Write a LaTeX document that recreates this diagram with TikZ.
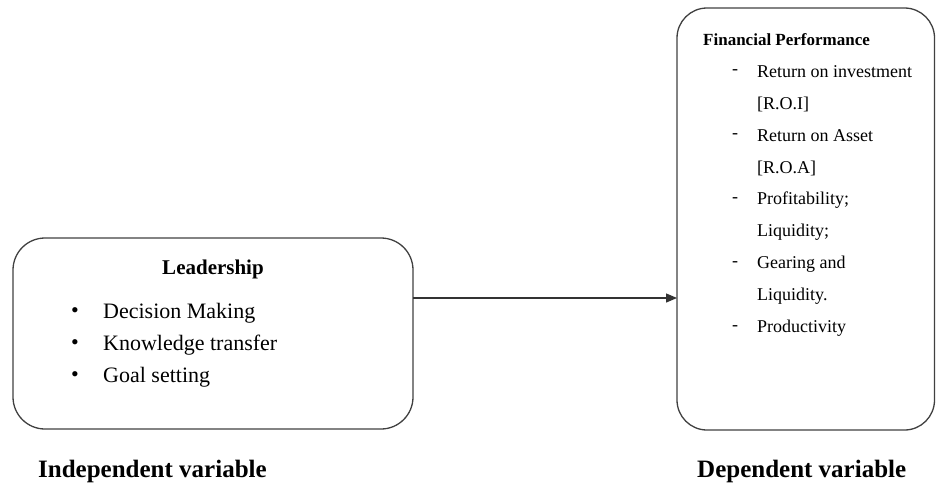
\documentclass[tikz,border=0pt]{standalone}
\usepackage{fontspec}
\setmainfont{Liberation Serif}
\usetikzlibrary{arrows.meta}
\tikzset{
  box/.style={draw=black!75, line width=1.3pt, rounded corners=32pt},
  bigtxt/.style={anchor=west, inner sep=0pt, font=\fontsize{22}{22}\selectfont},
  smalltxt/.style={anchor=west, inner sep=0pt, font=\fontsize{18}{18}\selectfont},
  lbl/.style={anchor=west, inner sep=0pt, font=\bfseries\fontsize{25}{25}\selectfont},
  conn/.style={draw=black!80, line width=1.3pt, -{Triangle[length=11pt,width=9pt]}}
}
\begin{document}
\begin{tikzpicture}[x=1pt,y=-1pt]
\useasboundingbox (0,0) rectangle (936,491);
\draw[box] (13,238) rectangle (413,429);
\coordinate (Lr) at (413,298);
\draw[box, rounded corners=30pt] (677,8) rectangle (934.5,430);
\coordinate (Rl) at (677,298);
\draw[conn] (Lr) -- (Rl);
% left box
\node[inner sep=0pt, font=\bfseries\fontsize{21}{21}\selectfont] (lead) at (213,269) {Leadership};
\foreach \t [count=\i] in {Decision Making, Knowledge transfer, Goal setting} {
  \node[bigtxt] (lb\i) at (71,{281+32*\i}) {\textbullet};
  \node[bigtxt] (lt\i) at (103,{281+32*\i}) {\t};
}
% right box
\node[anchor=west, inner sep=0pt, font=\bfseries\fontsize{17}{17}\selectfont] (fp) at (703,40) {Financial Performance};
\foreach \t/\d [count=\i] in {Return on investment/-, {[R.O.I]}/, Return on Asset/-, {[R.O.A]}/, Profitability;/-, Liquidity;/, Gearing and/-, Liquidity./, Productivity/-} {
  \node[smalltxt] (rd\i) at (732,{40+32*\i}) {\d};
  \node[smalltxt] (rt\i) at (757,{40+32*\i}) {\t};
}
\node[lbl] (ind) at (38,471) {Independent variable};
\node[lbl] (dep) at (697,471) {Dependent variable};
\end{tikzpicture}
\end{document}
